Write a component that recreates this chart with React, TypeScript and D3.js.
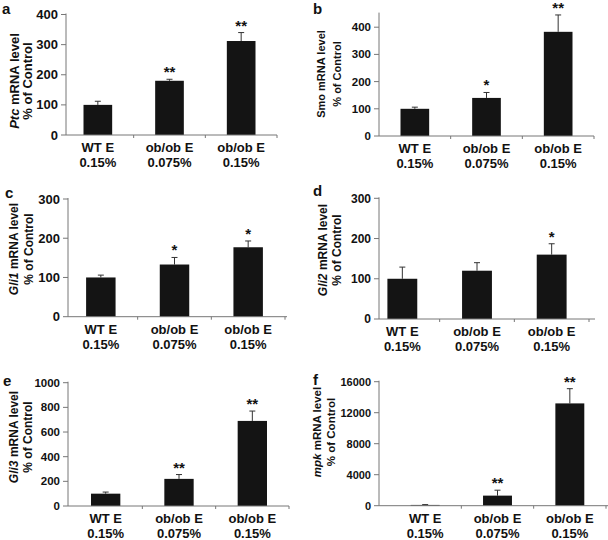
import React from "react";
import * as d3 from "d3";

// ---- data ----
const categoryLine1 = ["WT E", "ob/ob E", "ob/ob E"];
const categoryLine2 = ["0.15%", "0.075%", "0.15%"];

const genes = ["Ptc", "Smo", "Gli1", "Gli2", "Gli3", "mpk"];
const geneItalic = [true, false, true, true, true, true];
const panelLetters = ["a", "b", "c", "d", "e", "f"];

const ptcMean = [100, 180, 312];
const ptcErr = [12, 5, 28];
const ptcStars = ["", "**", "**"];

const smoMean = [100, 140, 383];
const smoErr = [6, 20, 62];
const smoStars = ["", "*", "**"];

const gli1Mean = [100, 133, 177];
const gli1Err = [6, 18, 16];
const gli1Stars = ["", "*", "*"];

const gli2Mean = [100, 120, 160];
const gli2Err = [29, 20, 27];
const gli2Stars = ["", "", "*"];

const gli3Mean = [100, 220, 690];
const gli3Err = [13, 35, 80];
const gli3Stars = ["", "**", "**"];

const mpkMean = [100, 1300, 13200];
const mpkErr = [40, 700, 1900];
const mpkStars = ["", "**", "**"];

const ptcTicks = [0, 100, 200, 300, 400];
const smoTicks = [0, 100, 200, 300, 400];
const gli1Ticks = [0, 100, 200, 300];
const gli2Ticks = [0, 100, 200, 300];
const gli3Ticks = [0, 200, 400, 600, 800, 1000];
const mpkTicks = [0, 4000, 8000, 12000, 16000];

const domainMax = [400, 450, 300, 300, 1000, 16000];

const means = [ptcMean, smoMean, gli1Mean, gli2Mean, gli3Mean, mpkMean];
const errs = [ptcErr, smoErr, gli1Err, gli2Err, gli3Err, mpkErr];
const stars = [ptcStars, smoStars, gli1Stars, gli2Stars, gli3Stars, mpkStars];
const ticks = [ptcTicks, smoTicks, gli1Ticks, gli2Ticks, gli3Ticks, mpkTicks];

// ---- layout (pixels) ----
const layouts = [
  { axisX: 66, band: [62, 277], axisEnd: 277, yRange: [135, 14.5], tickFont: 13, titleFont: 13, t1: 18.5, t2: 31.5, cy: 81, lx: 2, ly: 13.5 },
  { axisX: 379, band: [379, 594], axisEnd: 594, yRange: [136, 13.6], tickFont: 11.5, titleFont: 11, t1: 325, t2: 340.5, cy: 74, lx: 313, ly: 14 },
  { axisX: 68, band: [64, 285], axisEnd: 287, yRange: [316.7, 199], tickFont: 13, titleFont: 12, t1: 17.5, t2: 32.5, cy: 249, lx: 5, ly: 197.5 },
  { axisX: 379, band: [365, 589], axisEnd: 595, yRange: [319, 198.3], tickFont: 12, titleFont: 12, t1: 326.5, t2: 340.5, cy: 250, lx: 313, ly: 195.5 },
  { axisX: 68, band: [69, 289], axisEnd: 289, yRange: [506, 382.7], tickFont: 11.5, titleFont: 12, t1: 17.5, t2: 31.5, cy: 437, lx: 3, ly: 385.5 },
  { axisX: 379, band: [389, 606], axisEnd: 608, yRange: [505.7, 381.7], tickFont: 11, titleFont: 11.5, t1: 320.5, t2: 334.5, cy: 432, lx: 313, ly: 385 },
];

const FONT = "'Liberation Sans', Arial, Helvetica, sans-serif";
const AXIS = "#777";

function Panel({ i }: { i: number }) {
  const L = layouts[i];
  const y = d3.scaleLinear().domain([0, domainMax[i]]).range(L.yRange as [number, number]);
  const x = d3
    .scaleBand<number>()
    .domain([0, 1, 2])
    .range(L.band as [number, number])
    .paddingInner(0)
    .paddingOuter(0);
  const bw = x.bandwidth() * 0.4;
  const y0 = y(0);
  const fmt = d3.format("d");
  return (
    <g fontFamily={FONT} fontWeight="bold" fill="#111">
      {/* panel letter */}
      <text x={L.lx} y={L.ly} fontSize={15}>
        {panelLetters[i]}
      </text>
      {/* y title */}
      <text transform={`translate(${L.t1},${L.cy}) rotate(-90)`} textAnchor="middle" fontSize={L.titleFont}>
        <tspan fontStyle={geneItalic[i] ? "italic" : "normal"}>{genes[i]}</tspan>
        <tspan> mRNA level</tspan>
      </text>
      <text transform={`translate(${L.t2},${L.cy}) rotate(-90)`} textAnchor="middle" fontSize={L.titleFont}>
        % of Control
      </text>
      {/* bars */}
      {means[i].map((m, k) => {
        const cx = (x(k) as number) + x.bandwidth() / 2;
        const top = y(m + errs[i][k]);
        return (
          <g key={k}>
            <line x1={cx} x2={cx} y1={y(m)} y2={top} stroke="#333" strokeWidth={1} />
            <line x1={cx - 3} x2={cx + 3} y1={top} y2={top} stroke="#333" strokeWidth={1} />
            <rect x={cx - bw / 2} y={y(m)} width={bw} height={y0 - y(m)} fill="#141414" />
            {stars[i][k] && (
              <text x={cx} y={top - 2} textAnchor="middle" fontSize={15}>
                {stars[i][k]}
              </text>
            )}
          </g>
        );
      })}
      {/* y axis */}
      <line x1={L.axisX} x2={L.axisX} y1={y0} y2={y(domainMax[i]) - 1} stroke={AXIS} strokeWidth={1} />
      {ticks[i].map((t) => (
        <g key={t}>
          <line x1={L.axisX - 5} x2={L.axisX} y1={y(t)} y2={y(t)} stroke={AXIS} strokeWidth={1} />
          <text x={L.axisX - 8} y={y(t)} dy="0.35em" textAnchor="end" fontSize={L.tickFont}>
            {fmt(t)}
          </text>
        </g>
      ))}
      {/* x axis */}
      <line x1={L.axisX} x2={L.axisEnd} y1={y0} y2={y0} stroke={AXIS} strokeWidth={1} />
      {[1, 2, 3].map((k) => {
        const px = k < 3 ? (x(k) as number) : L.band[1];
        return <line key={k} x1={px} x2={px} y1={y0} y2={y0 + 3} stroke={AXIS} strokeWidth={1} />;
      })}
      {categoryLine1.map((c, k) => {
        const cx = (x(k) as number) + x.bandwidth() / 2;
        return (
          <g key={k}>
            <text x={cx} y={y0 + 17} textAnchor="middle" fontSize={13}>
              {c}
            </text>
            <text x={cx} y={y0 + 32} textAnchor="middle" fontSize={13}>
              {categoryLine2[k]}
            </text>
          </g>
        );
      })}
    </g>
  );
}

export default function App() {
  return (
    <svg
      width={608}
      height={540}
      viewBox="0 0 608 540"
      style={{ position: "absolute", left: 0, top: 0, background: "#fff" }}
    >
      <rect width={608} height={540} fill="#fff" />
      {genes.map((g, i) => (
        <Panel key={g} i={i} />
      ))}
    </svg>
  );
}
